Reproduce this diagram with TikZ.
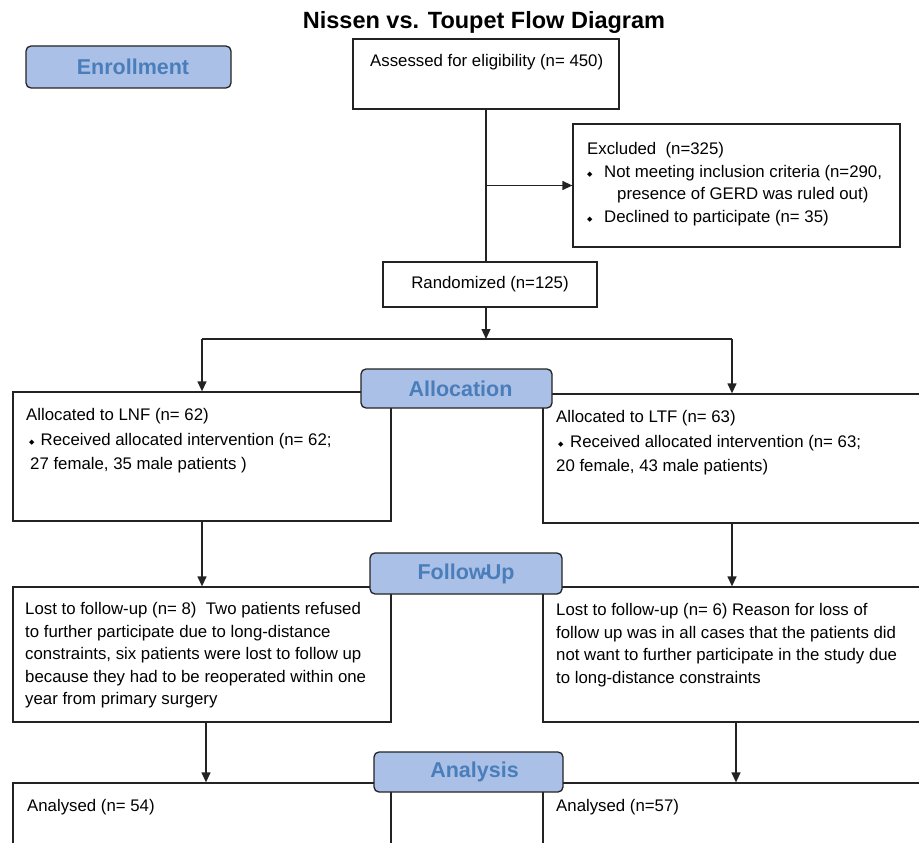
\documentclass[tikz,border=0pt]{standalone}
\usepackage{fontspec}
\setmainfont{Liberation Sans}
\newfontfamily\symfont{DejaVu Sans}
\usetikzlibrary{arrows.meta,positioning,calc}
\definecolor{hdrfill}{RGB}{171,192,230}
\definecolor{hdrtext}{RGB}{74,126,187}
\definecolor{edge}{RGB}{35,35,35}
\newcommand{\bul}[1]{\makebox[#1][l]{\raisebox{1pt}{\fontsize{7}{7}\selectfont\symfont ◆}}}
\tikzset{
  box/.style={rectangle, draw=edge, line width=1.3pt, inner sep=0pt},
  hdr/.style={rectangle, draw=edge, line width=1.3pt, rounded corners=5pt,
              fill=hdrfill, text=hdrtext, inner sep=0pt,
              font=\fontsize{21.5}{24}\selectfont\bfseries},
  txt/.style={anchor=north west, inner sep=0pt, align=left,
              font=\fontsize{16.8}{22.4}\selectfont},
  line/.style={line width=1.3pt, draw=edge},
  arr/.style={-{Triangle[length=10pt,width=9pt]}, line width=1.3pt, draw=edge},
}
\begin{document}
\begin{tikzpicture}[x=1pt,y=-1pt]
  \useasboundingbox (0,0) rectangle (919,843);
  \clip (0,0) rectangle (919,843);
  \node[font=\fontsize{23.5}{26}\selectfont\bfseries] (title) at (484,22)
    {Nissen vs. Toupet Flow Diagram};
  % enrollment
  \node[box, minimum width=266pt, minimum height=70pt] (assess) at (486,74) {};
  \node[txt, anchor=west] (assesstxt) at (370,62) {Assessed for eligibility (n= 450)};
  \node[box, minimum width=327pt, minimum height=123pt] (excl) at (736.5,185.5) {};
  \node[txt] (excltxt) at (587,142.5)
    {Excluded\ \ (n=325)\\
     \bul{17pt}Not meeting inclusion criteria (n=290,\\
     \hspace*{30pt}presence of GERD was ruled out)\\
     \bul{17pt}Declined to participate (n= 35)};
  \node[box, minimum width=214pt, minimum height=45pt,
        font=\fontsize{16.8}{20}\selectfont] (rand) at (490,284.5) {Randomized (n=125)};
  % allocation
  \node[box, minimum width=378pt, minimum height=129pt] (lnf) at (202,456.5) {};
  \node[txt, font=\fontsize{16.8}{24.5}\selectfont] (lnftxt) at (26,408.5)
    {Allocated to LNF (n= 62)\\
     \hspace*{3pt}\bul{11.5pt}Received allocated intervention (n= 62;\\
     \hspace*{4pt}27 female, 35 male patients )};
  \node[box, minimum width=378pt, minimum height=129pt] (ltf) at (732,458.5) {};
  \node[txt, font=\fontsize{16.8}{24.5}\selectfont] (ltftxt) at (556,410.5)
    {Allocated to LTF (n= 63)\\
     \hspace*{2pt}\bul{12pt}Received allocated intervention (n= 63;\\
     20 female, 43 male patients)};
  % follow-up
  \node[box, minimum width=378pt, minimum height=135pt] (lostl) at (202,654.5) {};
  \node[txt] (lostltxt) at (25,602.5)
    {Lost to follow-up (n= 8)\ \ Two patients refused\\
     to further participate due to long-distance\\
     constraints, six patients were lost to follow up\\
     because they had to be reoperated within one\\
     year from primary surgery};
  \node[box, minimum width=378pt, minimum height=135pt] (lostr) at (732,654.5) {};
  \node[txt] (lostrtxt) at (556,603.5)
    {Lost to follow-up (n= 6) Reason for loss of\\
     follow up was in all cases that the patients did\\
     not want to further participate in the study due\\
     to long-distance constraints};
  % analysis
  \node[box, minimum width=378pt, minimum height=87pt] (anal) at (202,826.5) {};
  \node[txt, anchor=west] (analtxt) at (27,807) {Analysed (n= 54)};
  \node[box, minimum width=378pt, minimum height=87pt] (anar) at (732,826.5) {};
  \node[txt, anchor=west] (anartxt) at (556,807) {Analysed (n=57)};
  % connectors
  \coordinate (split) at (486,339);
  \draw[line] (assess.south) -- (assess.south |- rand.north);
  \draw[arr] (assess.south |- excl.west) -- (excl.west);
  \draw[arr] (split |- rand.south) -- (split);
  \draw[line] (lnf.north |- split) -- (ltf.north |- split);
  \draw[arr] (lnf.north |- split) -- (lnf.north);
  \draw[arr] (ltf.north |- split) -- (ltf.north);
  \draw[arr] (lnf.south) -- (lostl.north);
  \draw[arr] (ltf.south) -- (lostr.north);
  \draw[arr] ([xshift=4pt]lostl.south) -- ([xshift=4pt]anal.north);
  \draw[arr] ([xshift=4pt]lostr.south) -- ([xshift=4pt]anar.north);
  % stage headers
  \node[hdr, minimum width=205pt, minimum height=42pt] (enroll) at (128.5,67)
    {\hspace*{9pt}Enrollment};
  \node[hdr, minimum width=191pt, minimum height=39pt] (alloc) at (456.5,388.5)
    {\hspace*{8pt}Allocation};
  \node[hdr, minimum width=192pt, minimum height=41pt] (follow) at (466,573.5)
    {Follow\hspace{-3.5pt}-\hspace{-3.5pt}Up};
  \node[hdr, minimum width=189pt, minimum height=40pt] (analysis) at (468.5,772)
    {\hspace*{12pt}Analysis};
\end{tikzpicture}
\end{document}
